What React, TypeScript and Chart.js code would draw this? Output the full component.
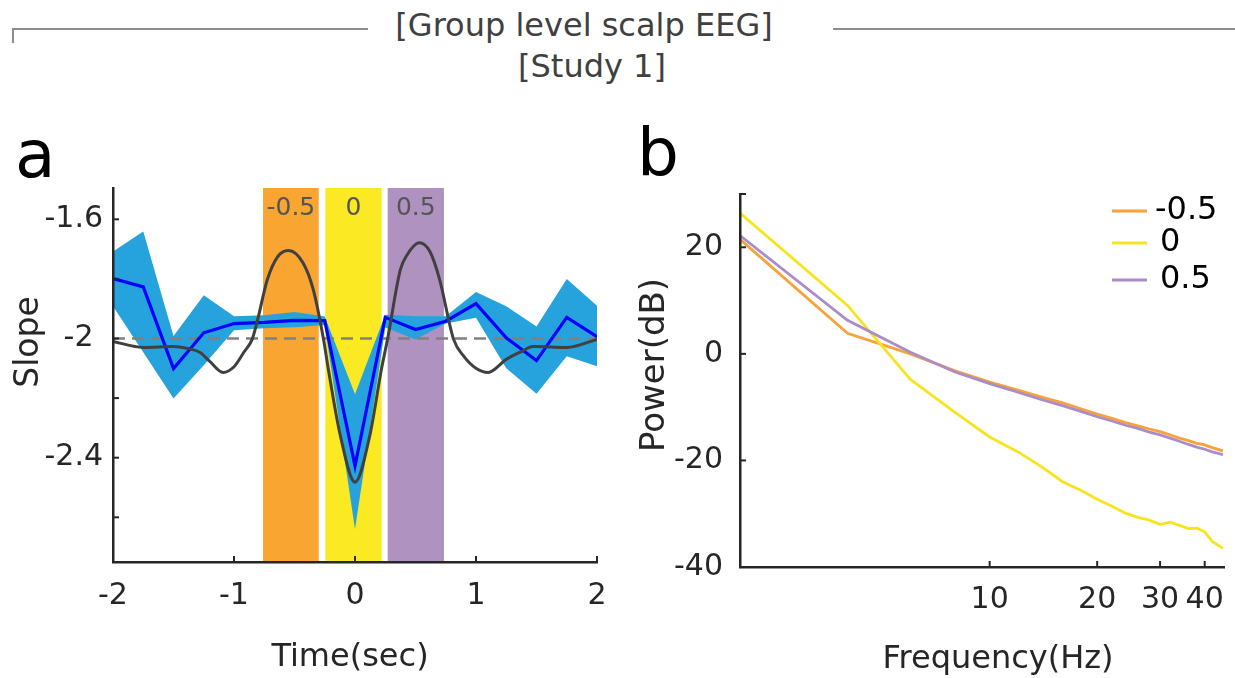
import React, { useEffect, useRef } from 'react';
import { Chart, registerables } from 'chart.js';

Chart.register(...registerables);

const FONT = "'DejaVu Sans', sans-serif";
const AXIS = '#262626';

// ---------- Panel a: slope over time ----------
const timeSteps = [-2, -1.75, -1.5, -1.25, -1, -0.75, -0.5, -0.25, 0, 0.25, 0.5, 0.75, 1, 1.25, 1.5, 1.75, 2];
const slopeMean = [-1.799, -1.827, -2.101, -1.981, -1.95, -1.946, -1.939, -1.94, -2.427, -1.929, -1.97, -1.942, -1.883, -1.998, -2.074, -1.929, -1.994];
const slopeUpper = [-1.708, -1.641, -1.992, -1.855, -1.925, -1.922, -1.911, -1.926, -2.187, -1.92, -1.925, -1.925, -1.844, -1.892, -1.96, -1.8, -1.89];
const slopeLower = [-1.892, -2.046, -2.201, -2.09, -1.972, -1.966, -1.962, -1.955, -2.64, -1.963, -2.003, -1.95, -1.93, -2.1, -2.185, -2.06, -2.093];

const kernelTime = [-2, -1.75, -1.5, -1.39, -1.28, -1.2, -1.09, -1.0, -0.92, -0.85, -0.81, -0.725, -0.64, -0.55, -0.43, -0.345, -0.26, -0.22, -0.12, 0, 0.12, 0.22, 0.27, 0.375, 0.43, 0.53, 0.62, 0.7, 0.815, 0.9, 1.0, 1.1, 1.25, 1.38, 1.47, 1.75, 2];
const kernelSlope = [-2.01, -2.03, -2.027, -2.033, -2.047, -2.077, -2.114, -2.095, -2.047, -2.003, -1.946, -1.803, -1.726, -1.705, -1.746, -1.836, -2.003, -2.104, -2.328, -2.482, -2.33, -2.1, -2.0, -1.769, -1.72, -1.679, -1.709, -1.803, -2.003, -2.06, -2.1, -2.114, -2.07, -2.043, -2.027, -2.03, -2.003];

const baselineSlope = -2;

const bandNames = ['-0.5', '0', '0.5'];
const bandStart = [-0.76, -0.245, 0.27];
const bandEnd = [-0.3, 0.22, 0.735];
const bandColors = ['#F8A532', '#FBE924', '#B092C1'];

const timeTicks = [-2, -1, 0, 1, 2];
const timeTickLabels = ['-2', '-1', '0', '1', '2'];
const slopeTicks = [-2.6, -2.4, -2.2, -2.0, -1.8, -1.6];
const slopeTickLabels = ['', '-2.4', '', '-2 ', '', '-1.6'];

// ---------- Panel b: power spectra ----------
const freqHz = [2, 4, 6, 8, 10, 12, 14, 16, 18, 20, 22, 24, 26, 28, 30, 32, 34, 36, 38, 40, 42, 45];
const powerNeg05 = [21.5, 3.85, 0.0, -3.2, -5.3, -6.8, -8.1, -9.2, -10.3, -11.3, -12.1, -12.9, -13.5, -14.1, -14.6, -15.2, -15.8, -16.3, -16.8, -17.1, -17.6, -18.2];
const powerZero = [26.4, 9.1, -4.8, -11.0, -15.6, -18.4, -21.2, -24.0, -25.6, -27.3, -28.6, -29.9, -30.7, -31.2, -32.0, -31.6, -32.2, -32.8, -32.7, -33.4, -35.2, -36.5];
const powerPos05 = [22.2, 6.3, 0.3, -3.4, -5.6, -7.2, -8.6, -9.7, -10.8, -11.8, -12.6, -13.4, -14.0, -14.7, -15.2, -15.8, -16.4, -17.0, -17.5, -17.9, -18.4, -18.9];
const seriesNames = ['-0.5', '0', '0.5'];
const seriesColors = ['#F7A23A', '#F8E41E', '#AA8DC8'];

const freqTicks = [10, 20, 30, 40];
const freqTickLabels = ['10', '20', '30', '40'];
const powerTicks = [-40, -20, 0, 20, 30];
const powerTickLabels = ['-40', '-20', '0', '20', ''];

function insideTicksPlugin(len: number) {
  return {
    id: 'insideTicks',
    afterDatasetsDraw(chart: any) {
      const { ctx, chartArea, scales } = chart;
      ctx.save();
      ctx.strokeStyle = AXIS;
      ctx.lineWidth = 2;
      for (const t of scales.x.ticks) {
        const px = scales.x.getPixelForValue(t.value);
        ctx.beginPath();
        ctx.moveTo(px, chartArea.bottom);
        ctx.lineTo(px, chartArea.bottom - len);
        ctx.stroke();
      }
      for (const t of scales.y.ticks) {
        const py = scales.y.getPixelForValue(t.value);
        ctx.beginPath();
        ctx.moveTo(chartArea.left, py);
        ctx.lineTo(chartArea.left + len, py);
        ctx.stroke();
      }
      ctx.restore();
    },
  };
}

function textPlugin(items: any[]) {
  return {
    id: 'texts',
    afterDraw(chart: any) {
      const { ctx } = chart;
      ctx.save();
      for (const it of items) {
        ctx.save();
        ctx.font = `${it.size}px ${FONT}`;
        ctx.fillStyle = it.color || AXIS;
        ctx.textAlign = it.align || 'center';
        ctx.textBaseline = it.baseline || 'middle';
        ctx.translate(it.x, it.y);
        if (it.rot) ctx.rotate(it.rot);
        ctx.fillText(it.text, 0, 0);
        ctx.restore();
      }
      ctx.restore();
    },
  };
}

const bandPlugin = {
  id: 'bands',
  beforeDatasetsDraw(chart: any) {
    const { ctx, chartArea, scales } = chart;
    ctx.save();
    bandNames.forEach((_, i) => {
      const x0 = scales.x.getPixelForValue(bandStart[i]);
      const x1 = scales.x.getPixelForValue(bandEnd[i]);
      ctx.fillStyle = bandColors[i];
      ctx.fillRect(x0, chartArea.top, x1 - x0, chartArea.bottom - chartArea.top);
    });
    ctx.restore();
  },
  afterDatasetsDraw(chart: any) {
    const { ctx, chartArea, scales } = chart;
    ctx.save();
    ctx.font = `25px ${FONT}`;
    ctx.fillStyle = '#555555';
    ctx.textAlign = 'center';
    ctx.textBaseline = 'middle';
    bandNames.forEach((name, i) => {
      const xc = (scales.x.getPixelForValue(bandStart[i]) + scales.x.getPixelForValue(bandEnd[i])) / 2;
      ctx.fillText(name, xc, chartArea.top + 20);
    });
    ctx.restore();
  },
};

const legendPlugin = {
  id: 'customLegend',
  afterDraw(chart: any) {
    const { ctx } = chart;
    const rows = [111, 143, 180];
    ctx.save();
    seriesNames.forEach((name, i) => {
      ctx.strokeStyle = seriesColors[i];
      ctx.lineWidth = 3;
      ctx.beginPath();
      ctx.moveTo(497, rows[i]);
      ctx.lineTo(532, rows[i]);
      ctx.stroke();
      ctx.font = `32px ${FONT}`;
      ctx.fillStyle = '#000000';
      ctx.textAlign = 'left';
      ctx.textBaseline = 'middle';
      ctx.fillText(name, i === 0 ? 540 : 545, rows[i]);
    });
    ctx.restore();
  },
};

function axisCommon() {
  return {
    grid: { display: true, drawOnChartArea: false, drawTicks: false },
    border: { display: true, color: AXIS, width: 2.5, z: 1 },
  };
}

function fixSize(prop: 'width' | 'height', size: number) {
  return (s: any) => {
    s[prop] = size;
    s.paddingLeft = 0;
    s.paddingRight = 0;
    s.paddingTop = 0;
    s.paddingBottom = 0;
  };
}

export default function App() {
  const refA = useRef<HTMLCanvasElement>(null);
  const refB = useRef<HTMLCanvasElement>(null);

  useEffect(() => {
    Chart.defaults.font.family = FONT;
    Chart.defaults.color = AXIS;

    const chartA = new Chart(refA.current as HTMLCanvasElement, {
      type: 'line',
      data: {
        datasets: [
          {
            label: 'lower',
            data: timeSteps.map((t, i) => ({ x: t, y: slopeLower[i] })),
            borderColor: 'rgba(0,0,0,0)',
            borderWidth: 0,
            pointRadius: 0,
            fill: false,
            order: 5,
          },
          {
            label: 'upper',
            data: timeSteps.map((t, i) => ({ x: t, y: slopeUpper[i] })),
            borderColor: 'rgba(0,0,0,0)',
            borderWidth: 0,
            backgroundColor: '#26A3DD',
            pointRadius: 0,
            fill: 0,
            order: 4,
          },
          {
            label: 'mean',
            data: timeSteps.map((t, i) => ({ x: t, y: slopeMean[i] })),
            borderColor: '#0000FF',
            borderWidth: 3.2,
            pointRadius: 0,
            fill: false,
            order: 2,
          },
          {
            label: 'baseline',
            data: [
              { x: timeSteps[0], y: baselineSlope },
              { x: timeSteps[timeSteps.length - 1], y: baselineSlope },
            ],
            borderColor: '#808080',
            borderDash: [12, 7],
            borderWidth: 2.5,
            pointRadius: 0,
            fill: false,
            order: 3,
          },
          {
            label: 'kernel',
            data: kernelTime.map((t, i) => ({ x: t, y: kernelSlope[i] })),
            borderColor: '#404040',
            borderWidth: 3,
            pointRadius: 0,
            cubicInterpolationMode: 'monotone',
            fill: false,
            order: 1,
          },
        ],
      },
      options: {
        responsive: false,
        animation: false,
        devicePixelRatio: 1,
        events: [],
        layout: { padding: { left: 0, top: 88, right: 18, bottom: 0 } },
        plugins: { legend: { display: false }, tooltip: { enabled: false }, title: { display: false } },
        scales: {
          x: {
            type: 'linear',
            min: -2,
            max: 2,
            afterBuildTicks: (s: any) => { s.ticks = timeTicks.map((v) => ({ value: v })); },
            afterFit: fixSize('height', 116),
            ...axisCommon(),
            ticks: {
              autoSkip: false, maxRotation: 0, padding: 16, color: AXIS,
              font: { size: 30, family: FONT },
              callback: (_v: any, i: number) => timeTickLabels[i],
            },
          },
          y: {
            type: 'linear',
            min: -2.75,
            max: -1.495,
            afterBuildTicks: (s: any) => { s.ticks = slopeTicks.map((v) => ({ value: v })); },
            afterFit: fixSize('width', 113),
            ...axisCommon(),
            ticks: {
              autoSkip: false, padding: 10, color: AXIS,
              font: { size: 30, family: FONT },
              callback: (_v: any, i: number) => slopeTickLabels[i],
            },
          },
        },
      },
      plugins: [
        bandPlugin,
        insideTicksPlugin(6),
        textPlugin([
          { text: 'a', x: 15, y: 77, size: 66, align: 'left', baseline: 'alphabetic', color: '#000000' },
          { text: 'Slope', x: 29, y: 242, size: 33, rot: -Math.PI / 2 },
          { text: 'Time(sec)', x: 350, y: 558, size: 32 },
        ]),
      ],
    } as any);

    const powers = [powerNeg05, powerZero, powerPos05];
    const chartB = new Chart(refB.current as HTMLCanvasElement, {
      type: 'line',
      data: {
        datasets: powers.map((arr, k) => ({
          label: seriesNames[k],
          data: freqHz.map((f, i) => ({ x: f, y: arr[i] })),
          borderColor: seriesColors[k],
          borderWidth: 2.8,
          pointRadius: 0,
          fill: false,
          order: 3 - k,
        })),
      },
      options: {
        responsive: false,
        animation: false,
        devicePixelRatio: 1,
        events: [],
        layout: { padding: { left: 0, top: 94, right: 11, bottom: 0 } },
        plugins: { legend: { display: false }, tooltip: { enabled: false }, title: { display: false } },
        scales: {
          x: {
            type: 'logarithmic',
            min: 2,
            max: 45.3,
            afterBuildTicks: (s: any) => { s.ticks = freqTicks.map((v) => ({ value: v })); },
            afterFit: fixSize('height', 111),
            ...axisCommon(),
            ticks: {
              autoSkip: false, maxRotation: 0, padding: 15, color: AXIS,
              font: { size: 30, family: FONT },
              callback: (_v: any, i: number) => freqTickLabels[i],
            },
          },
          y: {
            type: 'linear',
            min: -40,
            max: 30,
            afterBuildTicks: (s: any) => { s.ticks = powerTicks.map((v) => ({ value: v })); },
            afterFit: fixSize('width', 125),
            ...axisCommon(),
            ticks: {
              autoSkip: false, padding: 17, color: AXIS,
              font: { size: 30, family: FONT },
              callback: (_v: any, i: number) => powerTickLabels[i],
            },
          },
        },
      },
      plugins: [
        insideTicksPlugin(6),
        legendPlugin,
        textPlugin([
          { text: 'b', x: 22, y: 75, size: 66, align: 'left', baseline: 'alphabetic', color: '#000000' },
          { text: 'Power(dB)', x: 40, y: 265, size: 34, rot: -Math.PI / 2 },
          { text: 'Frequency(Hz)', x: 383, y: 560, size: 32 },
        ]),
      ],
    } as any);

    return () => {
      chartA.destroy();
      chartB.destroy();
    };
  }, []);

  const line = '#8C8C8C';
  return (
    <div style={{ position: 'absolute', left: 0, top: 0, width: 1235, height: 678, background: '#ffffff', overflow: 'hidden', fontFamily: FONT }}>
      <div style={{ position: 'absolute', left: 12, top: 28, width: 356, height: 2, background: line }} />
      <div style={{ position: 'absolute', left: 12, top: 28, width: 2, height: 15, background: line }} />
      <div style={{ position: 'absolute', left: 833, top: 28, width: 402, height: 2, background: line }} />
      <div style={{ position: 'absolute', left: 584, top: 5, transform: 'translateX(-50%)', whiteSpace: 'nowrap', fontSize: 32, lineHeight: '40px', color: '#404040' }}>
        [Group level scalp EEG]
      </div>
      <div style={{ position: 'absolute', left: 592, top: 46, transform: 'translateX(-50%)', whiteSpace: 'nowrap', fontSize: 32, lineHeight: '40px', color: '#404040' }}>
        [Study 1]
      </div>
      <canvas ref={refA} width={615} height={578} style={{ position: 'absolute', left: 0, top: 100 }} />
      <canvas ref={refB} width={620} height={578} style={{ position: 'absolute', left: 615, top: 100 }} />
    </div>
  );
}
